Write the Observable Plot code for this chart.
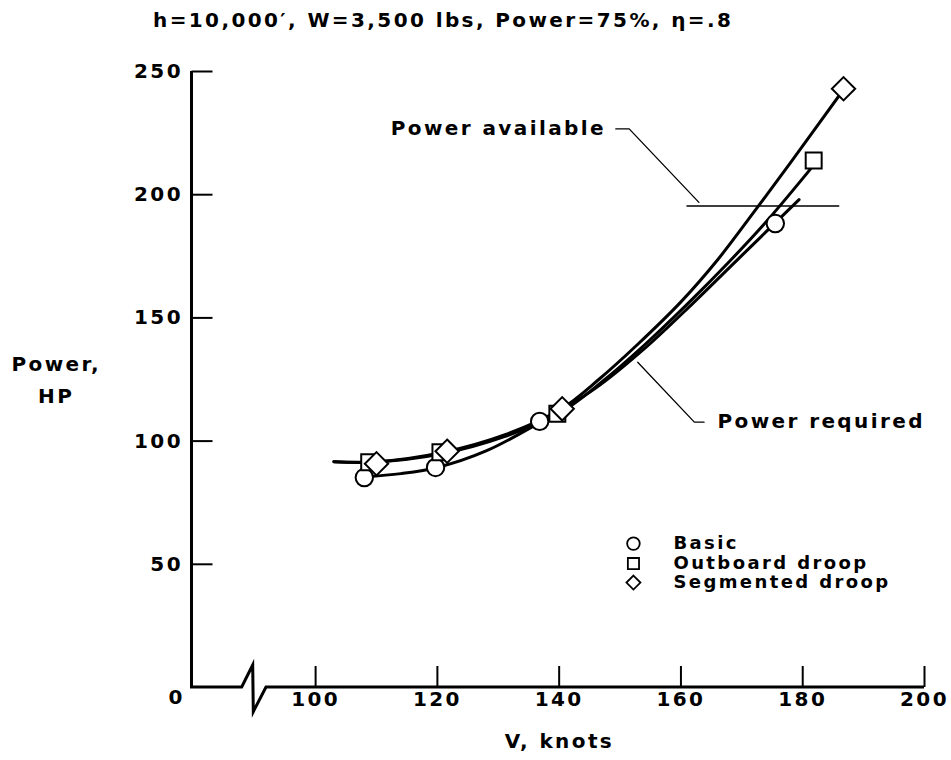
<!DOCTYPE html>
<html><head><meta charset="utf-8">
<script src="https://cdn.jsdelivr.net/npm/d3@7"></script>
<script src="https://cdn.jsdelivr.net/npm/@observablehq/plot@0.6"></script>
<style>
body{margin:0;background:#fff;}
#title{height:40px;font:bold 20px "DejaVu Sans",sans-serif;letter-spacing:2.4px;padding-left:153px;line-height:41px;white-space:pre;color:#000;}
#chart svg{display:block;}
</style></head><body>
<div id="title">h=10,000′, W=3,500 lbs, Power=75%, η=.8</div>
<div id="chart"></div>
<script>
// ---- data ----
const xTicks = [100, 120, 140, 160, 180, 200];
const yTicks = [50, 100, 150, 200, 250];
const seriesNames = ["Basic", "Outboard droop", "Segmented droop"];
const seriesSymbols = ["circle", "square", "diamond2"];

// measured points
const basicV = [108, 119.7, 136.8, 175.5];
const basicP = [85.2, 89.3, 108, 188.3];
const outboardV = [108.8, 120.5, 139.7, 181.8];
const outboardP = [91.4, 95.5, 111.1, 213.9];
const segmentedV = [110, 121.6, 140.5, 186.7];
const segmentedP = [90.8, 95.9, 113.1, 243];

// faired curves
const basicCurveV = [108, 114, 120, 128, 137, 146, 154, 162, 168, 174, 179.4];
const basicCurveP = [85.5, 86.8, 89.3, 96, 107.8, 121.5, 137.5, 156, 170.5, 185, 198];
const outboardCurveV = [103, 109, 121, 131, 140.5, 147, 154, 161, 168, 174, 181.8];
const outboardCurveP = [91.6, 91.4, 95, 101.8, 112, 124, 139, 155.5, 173, 189, 212];
const segmentedCurveV = [103, 110, 121, 131, 140.3, 146.5, 153, 160, 166, 172, 178, 186.8];
const segmentedCurveP = [91.6, 91.6, 95.5, 102.5, 113, 125, 139.5, 156.5, 173.5, 193, 213, 243];

// power available
const availableV = [161.0, 185.9];
const availableP = [195.4, 195.4];

// annotations
const availLabel = "Power available";
const availLabelV = 147.7, availLabelP = 226.9;
const availLeaderV = [149.3, 151.5, 162.95];
const availLeaderP = [226.7, 226.7, 196.9];
const reqLabel = "Power required";
const reqLabelV = 166.0, reqLabelP = 108.0;
const reqLeaderV = [152.9, 162.2, 163.8];
const reqLeaderP = [132.0, 107.7, 107.7];

// legend anchor
const legendV = 152.2;
const legendP = [58.4, 50.3, 42.6];

// axis
const xMin = 79.7, xMax = 200, yMin = 0, yMax = 250;
const breakV = 89.8;
const originLabel = "0";
const xLabel = "V, knots";
const yLabel = "Power,\nHP";

// ---- tables ----
const curveTable = [
  ...basicCurveV.map((v, i) => ({s: seriesNames[0], v, p: basicCurveP[i]})),
  ...outboardCurveV.map((v, i) => ({s: seriesNames[1], v, p: outboardCurveP[i]})),
  ...segmentedCurveV.map((v, i) => ({s: seriesNames[2], v, p: segmentedCurveP[i]}))
];
const pts = (V, P) => V.map((v, i) => ({v, p: P[i]}));
const legendTable = seriesNames.map((s, i) => ({s, sym: seriesSymbols[i], v: legendV, p: legendP[i]}));

const W = 951, H = 720;
const mL = 191.5, mR = 27, mT = 31, mB = 73;
const fw = W - mL - mR, fh = H - mT - mB;
const tickLen = 21;

function axisFrame(index, scales) {
  const {x, y} = scales;
  const x0 = x(xMin), y0 = y(0), yt = y(yMax), xb = x(breakV), xe = x(xMax);
  const g = d3.create("svg:g");
  g.append("path")
    .attr("d", `M${x0},${yt}V${y0}H${xb - 11.3}L${xb - 0.3},${y0 - 22}L${xb + 0.3},${y0 + 24.7}L${xb + 13},${y0}H${xe}`)
    .attr("fill", "none").attr("stroke", "black").attr("stroke-width", 3)
    .attr("stroke-linejoin", "miter").attr("stroke-miterlimit", 10);
  return g.node();
}

const txt = {fontSize: 20, fill: "black"};
const ctr = {textAnchor: "middle", lineAnchor: "middle"};
const chart = Plot.plot({
  width: W, height: H,
  marginLeft: mL, marginRight: mR, marginTop: mT, marginBottom: mB,
  x: {domain: [xMin, xMax]},
  y: {domain: [yMin, yMax]},
  style: "font-family:'DejaVu Sans',sans-serif;font-weight:bold;letter-spacing:2.4px;font-size:20px;background:white;color:black;",
  marks: [
    Plot.ruleX(xTicks, {stroke: "black", strokeWidth: 2, insetTop: fh - tickLen}),
    Plot.ruleY(yTicks, {stroke: "black", strokeWidth: 2, insetRight: fw - tickLen}),
    Plot.axisX({ticks: xTicks, tickSize: 0, tickPadding: 4, fontSize: 20, label: null}),
    Plot.axisY({ticks: yTicks, tickSize: 0, tickPadding: 9, fontSize: 20, label: null}),
    axisFrame,
    Plot.text([originLabel], {frameAnchor: "bottom-left", dx: -15.3, dy: 10.5, ...ctr, ...txt}),
    Plot.text([xLabel], {frameAnchor: "bottom", dx: 1.2, dy: 54, ...ctr, ...txt}),
    Plot.text([yLabel], {frameAnchor: "left", dx: -135.8, dy: -2.7, lineHeight: 1.625, ...ctr, ...txt}),
    // power available
    Plot.line(pts(availableV, availableP), {x: "v", y: "p", stroke: "black", strokeWidth: 1.6}),
    Plot.line(pts(availLeaderV, availLeaderP), {x: "v", y: "p", stroke: "black", strokeWidth: 1.3}),
    Plot.line(pts(reqLeaderV, reqLeaderP), {x: "v", y: "p", stroke: "black", strokeWidth: 1.3}),
    Plot.text([availLabel], {x: () => availLabelV, y: () => availLabelP, textAnchor: "end", ...txt}),
    Plot.text([reqLabel], {x: () => reqLabelV, y: () => reqLabelP, textAnchor: "start", ...txt}),
    // curves
    Plot.line(curveTable, {x: "v", y: "p", z: "s", curve: "catmull-rom", stroke: "black", strokeWidth: 3}),
    // markers
    Plot.dot(pts(basicV, basicP), {x: "v", y: "p", symbol: "circle", r: 8.7, fill: "white", stroke: "black", strokeWidth: 2}),
    Plot.dot(pts(outboardV, outboardP), {x: "v", y: "p", symbol: "square", r: 9, fill: "white", stroke: "black", strokeWidth: 2}),
    Plot.dot(pts(segmentedV, segmentedP), {x: "v", y: "p", symbol: "diamond2", r: 10.5, fill: "white", stroke: "black", strokeWidth: 2}),
    // legend
    Plot.dot(legendTable, {x: "v", y: "p", symbol: "sym", r: 6.3, fill: "white", stroke: "black", strokeWidth: 1.8}),
    Plot.text(legendTable, {x: "v", y: "p", text: "s", dx: 40, textAnchor: "start", fontSize: 18, fill: "black"}),
  ]
});
document.getElementById("chart").appendChild(chart);
</script>
</body></html>
